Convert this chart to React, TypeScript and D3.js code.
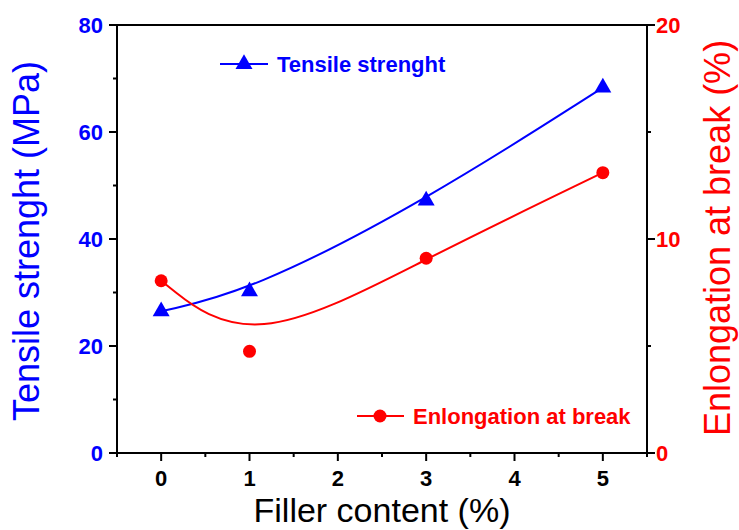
import React from 'react';
import * as d3 from 'd3';

// filler content (%)
const fillerContent = [0, 1, 3, 5];
// tensile strength (MPa), left axis
const tensile = [26.5, 30.2, 47.2, 68.3];
// elongation at break (%), right axis
const elongation = [8.05, 4.75, 9.1, 13.1];

const xMajor = [0, 1, 2, 3, 4, 5];
const xMinor = [-0.5, 0.5, 1.5, 2.5, 3.5, 4.5, 5.5];
const leftMajor = [0, 20, 40, 60, 80];
const leftMinor = [10, 30, 50, 70];
const rightMajor = [0, 10, 20];
const rightMinor = [5, 15];

const W = 739;
const H = 530;
const BLUE = '#0000ff';
const RED = '#ff0000';
const FONT = 'Liberation Sans, Arial, sans-serif';
const TICK_FS = 22;
const TITLE_FS = 36;

export default function App() {
  const x = d3.scaleLinear().domain([-0.5, 5.5]).range([117, 647]);
  const yL = d3.scaleLinear().domain([0, 80]).range([453, 25]);
  const yR = d3.scaleLinear().domain([0, 20]).range([453, 25]);

  const tensilePts = fillerContent.map((f, i) => [x(f), yL(tensile[i])] as [number, number]);
  const elongPts = fillerContent.map((f, i) => [x(f), yR(elongation[i])] as [number, number]);

  const curve = d3.line().curve(d3.curveBasis);
  const tri = d3.symbol().type(d3.symbolTriangle).size(125);

  const [x0, x1] = x.range();
  const [yb, yt] = yL.range();

  return (
    <svg width={W} height={H} style={{ position: 'absolute', left: 0, top: 0 }} fontFamily={FONT}>
      <rect width={W} height={H} fill="#fff" />

      {/* frame */}
      <g stroke="#000" strokeWidth={2} fill="none">
        <line x1={x0} x2={x1} y1={yt} y2={yt} />
        <line x1={x0} x2={x1} y1={yb} y2={yb} />
        <line x1={x0} x2={x0} y1={yt} y2={yb} />
        <line x1={x1} x2={x1} y1={yt} y2={yb} />
      </g>

      {/* x axis */}
      <g stroke="#000" strokeWidth={2}>
        {xMajor.map(v => <line key={'xm' + v} x1={x(v)} x2={x(v)} y1={yb} y2={yb + 8} />)}
        {xMinor.map(v => <line key={'xn' + v} x1={x(v)} x2={x(v)} y1={yb} y2={yb + 4} />)}
      </g>
      {xMajor.map(v => (
        <text key={'xt' + v} x={x(v)} y={486} textAnchor="middle" fontSize={TICK_FS} fontWeight="bold" fill="#000">{v}</text>
      ))}
      <text x={382} y={522} textAnchor="middle" fontSize={34} fill="#000">Filler content (%)</text>

      {/* left axis */}
      <g stroke="#000" strokeWidth={2}>
        {leftMajor.map(v => <line key={'lm' + v} x1={x0 - 8} x2={x0} y1={yL(v)} y2={yL(v)} />)}
        {leftMinor.map(v => <line key={'ln' + v} x1={x0 - 4} x2={x0} y1={yL(v)} y2={yL(v)} />)}
      </g>
      {leftMajor.map(v => (
        <text key={'lt' + v} x={103} y={yL(v) + 8} textAnchor="end" fontSize={TICK_FS} fontWeight="bold" fill={BLUE}>{v}</text>
      ))}
      <text transform={`translate(39,${241}) rotate(-90)`} textAnchor="middle" fontSize={TITLE_FS} fill={BLUE}>Tensile strenght (MPa)</text>

      {/* right axis */}
      <g stroke="#000" strokeWidth={2}>
        {rightMajor.map(v => <line key={'rm' + v} x1={x1} x2={x1 + 8} y1={yR(v)} y2={yR(v)} />)}
        {rightMinor.map(v => <line key={'rn' + v} x1={x1} x2={x1 + 4} y1={yR(v)} y2={yR(v)} />)}
      </g>
      {rightMajor.map(v => (
        <text key={'rt' + v} x={656} y={yR(v) + 8} textAnchor="start" fontSize={TICK_FS} fontWeight="bold" fill={RED}>{v}</text>
      ))}
      <text transform={`translate(730,${238}) rotate(-90)`} textAnchor="middle" fontSize={TITLE_FS} fill={RED}>Enlongation at break (%)</text>

      {/* series */}
      <path d={curve(tensilePts) || ''} fill="none" stroke={BLUE} strokeWidth={2} />
      <path d={curve(elongPts) || ''} fill="none" stroke={RED} strokeWidth={2} />
      {tensilePts.map((p, i) => (
        <path key={'tp' + i} d={tri() || ''} transform={`translate(${p[0]},${p[1]})`} fill={BLUE} />
      ))}
      {elongPts.map((p, i) => (
        <circle key={'ep' + i} cx={p[0]} cy={p[1]} r={6.5} fill={RED} />
      ))}

      {/* legends */}
      <line x1={220} x2={268} y1={64} y2={64} stroke={BLUE} strokeWidth={2} />
      <path d={tri() || ''} transform="translate(244,64)" fill={BLUE} />
      <text x={277} y={72} fontSize={TICK_FS} fontWeight="bold" fill={BLUE}>Tensile strenght</text>

      <line x1={357} x2={404} y1={416} y2={416} stroke={RED} strokeWidth={2} />
      <circle cx={380} cy={416} r={6.5} fill={RED} />
      <text x={413} y={424} fontSize={TICK_FS} fontWeight="bold" fill={RED}>Enlongation at break</text>
    </svg>
  );
}
